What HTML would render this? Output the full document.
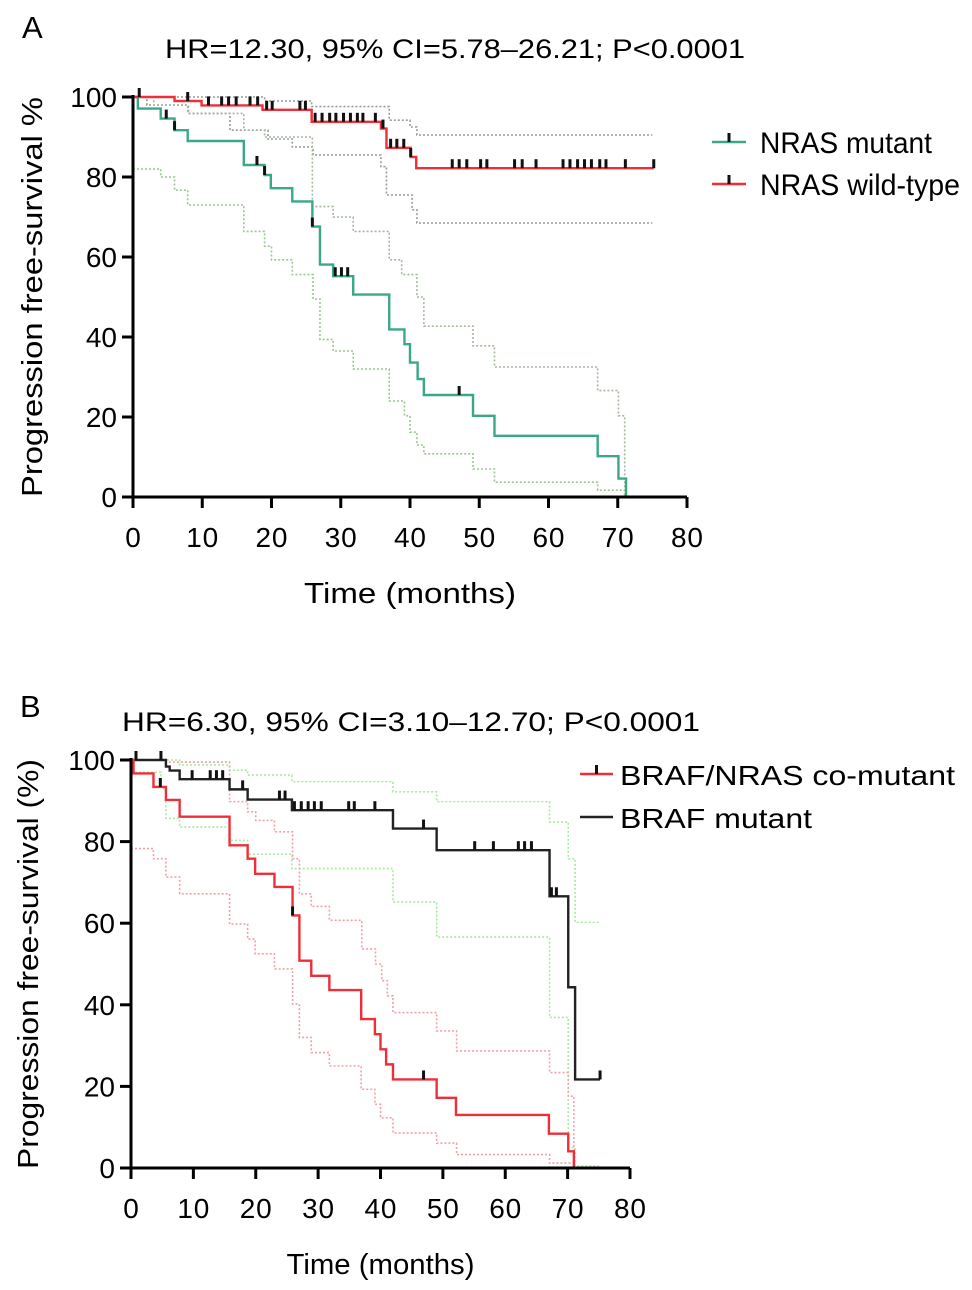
<!DOCTYPE html>
<html><head><meta charset="utf-8"><style>
html,body{margin:0;padding:0;background:#fff;width:972px;height:1290px;overflow:hidden}
svg{display:block;font-family:"Liberation Sans",sans-serif}
</style></head><body>
<svg id="fig" width="972" height="1290" viewBox="0 0 972 1290">
<text x="22" y="38" font-size="31">A</text>
<text x="165" y="58" font-size="27" textLength="580" lengthAdjust="spacingAndGlyphs">HR=12.30, 95% CI=5.78–26.21; P&lt;0.0001</text>
<text x="20" y="717" font-size="31">B</text>
<text x="122" y="731" font-size="27" textLength="578" lengthAdjust="spacingAndGlyphs">HR=6.30, 95% CI=3.10–12.70; P&lt;0.0001</text>
<g id="gA"></g>
<g id="gB"></g>
</svg>
<script>
// ---- Panel A data (time in months, survival %)
const xTicks = [0,10,20,30,40,50,60,70,80];
const yTicks = [0,20,40,60,80,100];
const aMutT = [0,0.7,4.0,6.0,7.9,16.0,19.0,19.9,23.0,25.9,27.0,28.9,31.8,37.0,39.2,40.0,41.1,42.0,49.1,52.2,67.1,70.1,71.2];
const aMutS = [100,97.1,94.6,91.7,89,83,80.5,77.2,73.9,67.6,58.1,55.2,50.6,41.9,38.2,33.6,29.5,25.5,20.3,15.3,10.2,4.6,0];
const aMutEnd = 71.2;
const aMutCens = [4.8,6.0,17.9,19.0,25.9,29.2,30.1,31.0,47.1];
const aWtT = [0,6.0,9.9,18.7,25.8,35.8,36.6,40.1,40.9];
const aWtS = [100,99,97.9,96.8,93.8,92.1,87.3,85,82.2];
const aWtEnd = 75.2;
const aWtCens = [0.9,7.9,10.9,12.8,13.8,14.9,16.9,18.0,19.3,20.1,24.1,24.9,26.3,27.3,28.4,29.3,30.4,31.4,32.4,33.2,35.0,36.1,37.2,38.1,39.1,40.1,46.1,47.1,48.2,50.2,51.1,55.1,56.2,58.2,62.1,63.1,64.2,65.2,66.2,67.4,68.3,71.1,75.2];
const aWtUpT = [0,18,19,25.8,37,40,41];
const aWtUpS = [100,100,99,97.6,94.2,92.5,90.5];
const aWtLoT = [0,2,8,14,19.5,23,26,35.8,36.6,40.3,41];
const aWtLoS = [100,98,95.9,91.7,89.5,87.5,85.5,82.6,75.5,71.8,68.5];
const aMutUpT = [0,3,7.9,16,19,25.9,28.9,31.8,37,38.8,41,42,49.1,52.2,67.1,70.1,71];
const aMutUpS = [100,98,95.9,91.7,90,72.6,70,66.4,59.3,55.6,50,42.7,37.8,32.5,26.6,20.3,0];
const aMutLoT = [0,4,6,7.9,16,19,20,23,26,27,28.9,31.8,37,39.2,40,41,42,49.1,52.2,67.1,71];
const aMutLoS = [82,80,76.7,73,66.4,62.7,59.3,55.6,49.5,39.4,36.5,32,24,20.3,16.2,13,10.8,7,3.7,1.7,0];
// ---- Panel B data
const bBrT = [0,5.6,6.2,7.8,15.8,18.7,25.8,42.0,49.0,67.1,70.1,71.2];
const bBrS = [100,98.4,97.4,95.3,92.8,90.3,87.7,83.2,77.9,66.6,44.3,21.7];
const bBrEnd = 75.2;
const bBrCens = [0.8,4.8,9.8,12.7,13.7,14.7,17.9,23.8,24.7,26.2,27.3,28.4,29.4,30.5,34.9,35.8,39.1,46.9,55.1,58.1,62.1,63.1,64.2,67.4,68.2,75.2];
const bCoT = [0,0.4,3.6,5.6,7.8,15.8,18.7,19.9,23.0,25.9,27.0,28.9,31.8,36.9,39.1,40.0,40.9,42.0,49.0,52.1,67.0,70.1,71.0];
const bCoS = [100,96.7,93.4,90.2,86.1,79.1,75.8,72.1,68.9,61.9,50.8,47.1,43.6,36.5,32.8,29.1,25.4,21.7,17.2,13,8.4,4.1,0];
const bCoEnd = 71.0;
const bCoCens = [4.7,25.9,46.9];
const bCoUpT = [0,5.6,15.8,18.7,20,23,25.9,27,28.9,31.8,37,39.2,40.2,41.1,42,49,52.2,67.1,70.1,71];
const bCoUpS = [100,99.5,89.8,87.3,85.2,82.4,75.8,67.2,64.1,60.7,53.7,50,45.9,42.2,38.1,33.6,28.7,23.4,17.6,0];
const bCoLoT = [0,3.6,5.6,7.8,15.8,18.7,19.9,23,25.9,27,28.9,31.8,36.9,39.1,40,42,49,52.2,67.1,71];
const bCoLoS = [78.3,75.8,71.3,67.2,59.8,56.1,52.5,48.8,40.2,32,28.3,25,19.3,15.6,12.3,8.6,6.1,3.3,1.2,0];
const bBrUpT = [0,7.8,15.8,18.7,25.8,42,49,67.1,70.1,71.2];
const bBrUpS = [100,98.8,97.5,96.3,94.7,92.2,89.8,84.8,75.8,60.2];
const bBrLoT = [0,4.8,5.6,7.8,15.8,18.7,25.8,42,49,67.1,70.1,71.2];
const bBrLoS = [97,93,85.7,83.6,80.3,76.9,73.4,65.2,56.6,36.9,5,0.5];

const NS='http://www.w3.org/2000/svg';
function mk(parent,tag,attrs){const e=document.createElementNS(NS,tag);for(const k in attrs)e.setAttribute(k,attrs[k]);parent.appendChild(e);return e;}

function makePanel(g,cfg){
  const xs=t=>cfg.x0+(t/80)*(cfg.x1-cfg.x0);
  const ys=s=>cfg.y0-(s/100)*(cfg.y0-cfg.y1);
  function stepD(T,S,end){let d='M'+xs(T[0])+','+ys(S[0]);for(let i=1;i<T.length;i++){d+='H'+xs(T[i])+'V'+ys(S[i]);}if(end!==undefined)d+='H'+xs(end);return d;}
  cfg.bands.forEach(b=>{
    const p=mk(g,'path',{d:stepD(b.T,b.S,b.end),fill:'none',stroke:b.color,'stroke-width':1.6,'stroke-dasharray':'2,2'});
    
    
  });
  cfg.series.forEach(s=>{
    const p=mk(g,'path',{d:stepD(s.T,s.S,s.end),fill:'none',stroke:s.color,'stroke-width':2.4});
    
    
    s.C.forEach(c=>{
      let v=s.S[0];for(let i=0;i<s.T.length;i++){if(s.T[i]<=c)v=s.S[i];}
      const r=mk(g,'rect',{x:xs(c)-1.5,y:ys(v)-9,width:3,height:9,fill:'#111'});
      
      
    });
  });
  const ax=mk(g,'path',{d:'M'+cfg.x0+','+(cfg.y1-2)+'V'+cfg.y0+'H'+cfg.x1,fill:'none',stroke:'#000','stroke-width':3});
  
  
  xTicks.forEach(t=>{
    const l=mk(g,'line',{x1:xs(t),x2:xs(t),y1:cfg.y0,y2:cfg.y0+11,stroke:'#000','stroke-width':3});
    
    
    const tx=mk(g,'text',{x:xs(t),y:cfg.y0+50,'font-size':28,'text-anchor':'middle'});tx.textContent=t;
    if(t>=10)tx.setAttribute('textLength',32);
    
    
  });
  yTicks.forEach(v=>{
    const l=mk(g,'line',{x1:cfg.x0-11,x2:cfg.x0,y1:ys(v),y2:ys(v),stroke:'#000','stroke-width':3});
    
    
    const tx=mk(g,'text',{x:cfg.x0-16,y:ys(v)+10,'font-size':28,'text-anchor':'end'});tx.textContent=v;
    
    
  });
  const xt=mk(g,'text',{x:(cfg.x0+cfg.x1)/2-cfg.xtw/2,y:cfg.y0+106,'font-size':29,textLength:cfg.xtw,lengthAdjust:'spacingAndGlyphs'});xt.textContent='Time (months)';
  
  
  const ytx=cfg.ytx, yty=(cfg.y0+cfg.y1)/2;
  const yt=mk(g,'text',{x:ytx-cfg.ytw/2,y:yty,'font-size':29,textLength:cfg.ytw,lengthAdjust:'spacingAndGlyphs',transform:'rotate(-90 '+ytx+' '+yty+')'});yt.textContent=cfg.ytitle;
  
  
  cfg.legend.forEach(L=>{
    const ln=mk(g,'line',{x1:L.lx,x2:L.lx+L.lw,y1:L.y,y2:L.y,stroke:L.color,'stroke-width':2.4});
    
    
    if(L.tick){const r=mk(g,'rect',{x:L.lx+L.lw/2-1.5,y:L.y-9,width:3,height:9,fill:'#111'});
      
      }
    const tx=mk(g,'text',{x:L.tx,y:L.y+11,'font-size':L.fs,textLength:L.w,lengthAdjust:'spacingAndGlyphs'});tx.textContent=L.text;
    
    
  });
}
const GREEN='#3aa888', RED='#ee2f38';
makePanel(document.getElementById('gA'),{x0:133,x1:687,y0:497,y1:97,ytx:42,ytw:400,xtw:212,ytitle:'Progression free-survival %',
  bands:[
    {T:aWtUpT,S:aWtUpS,end:75,color:'#9a9a9a',name:'wildtype-ci-upper'},
    {T:aWtLoT,S:aWtLoS,end:75,color:'#9a9a9a',name:'wildtype-ci-lower'},
    {T:aMutUpT,S:aMutUpS,color:'#a4b8a0',name:'mutant-ci-upper'},
    {T:aMutLoT,S:aMutLoS,color:'#98c890',name:'mutant-ci-lower'}],
  series:[
    {T:aMutT,S:aMutS,end:aMutEnd,C:aMutCens,color:GREEN,name:'nras-mutant-curve'},
    {T:aWtT,S:aWtS,end:aWtEnd,C:aWtCens,color:RED,name:'nras-wildtype-curve'}],
  legend:[
    {lx:712,lw:34,y:142,color:GREEN,tick:true,tx:760,text:'NRAS mutant',fs:30,w:172},
    {lx:712,lw:34,y:184,color:RED,tick:true,tx:760,text:'NRAS wild-type',fs:30,w:200}]
});
makePanel(document.getElementById('gB'),{x0:131,x1:630,y0:1168,y1:760,ytx:38,ytw:410,xtw:188,ytitle:'Progression free-survival (%)',
  bands:[
    {T:bBrUpT,S:bBrUpS,end:75,color:'#a8eaa0',name:'braf-ci-upper'},
    {T:bBrLoT,S:bBrLoS,end:75,color:'#a8eaa0',name:'braf-ci-lower'},
    {T:bCoUpT,S:bCoUpS,color:'#f2a0a8',name:'comutant-ci-upper'},
    {T:bCoLoT,S:bCoLoS,color:'#f2a0a8',name:'comutant-ci-lower'}],
  series:[
    {T:bBrT,S:bBrS,end:bBrEnd,C:bBrCens,color:'#222',name:'braf-mutant-curve'},
    {T:bCoT,S:bCoS,end:bCoEnd,C:bCoCens,color:RED,name:'braf-nras-comutant-curve'}],
  legend:[
    {lx:580,lw:33,y:774,color:RED,tick:true,tx:620,text:'BRAF/NRAS co-mutant',fs:28,w:335},
    {lx:580,lw:33,y:817,color:'#222',tick:false,tx:620,text:'BRAF mutant',fs:28,w:192}]
});
</script>
</body></html>
